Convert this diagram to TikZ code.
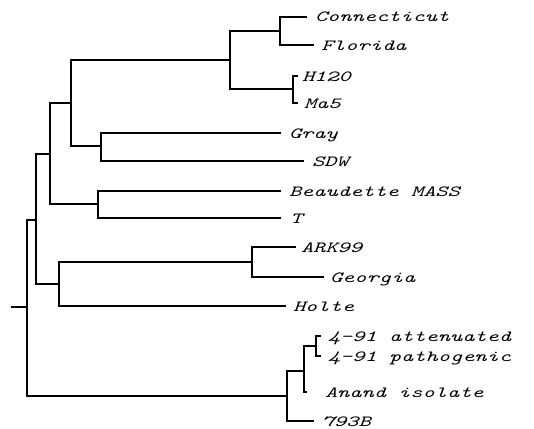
\documentclass[tikz,border=0pt]{standalone}
\usepackage{graphicx}
\newcommand{\lbl}[1]{\scalebox{1.5}[1]{\fontsize{15.5}{17}\selectfont\ttfamily\itshape #1}}
\tikzset{
  br/.style={line width=1.6pt, line cap=rect},
  leaf/.style={anchor=base west, inner sep=0pt, outer sep=0pt, text=black}
}
\begin{document}
\begin{tikzpicture}[x=1pt,y=-1pt]
\useasboundingbox (0,0) rectangle (534,428);
% internal nodes
\coordinate (n1) at (280,31);
\coordinate (n2) at (293,89);
\coordinate (n3) at (230,60);
\coordinate (n4) at (101,146);
\coordinate (n5) at (71,103);
\coordinate (n6) at (98,204);
\coordinate (n7) at (50,154);
\coordinate (n8) at (252,262);
\coordinate (n9) at (59,284);
\coordinate (n10) at (36,220);
\coordinate (n11) at (316,346);
\coordinate (n12) at (304,371);
\coordinate (n13) at (287,396);
\coordinate (root) at (27,307);
\coordinate (stub) at (12,307);
% leaf ends
\coordinate (eConn) at (306,17);
\coordinate (eFlor) at (313,45);
\coordinate (eH) at (297,76);
\coordinate (eMa) at (297,103);
\coordinate (eGray) at (280,133);
\coordinate (eSDW) at (303,161);
\coordinate (eBeau) at (280,191);
\coordinate (eT) at (280,218);
\coordinate (eARK) at (295,247);
\coordinate (eGeo) at (323,277);
\coordinate (eHol) at (285,306);
\coordinate (eAtt) at (320,336);
\coordinate (ePat) at (320,356);
\coordinate (eAn) at (306,392);
\coordinate (e793) at (313,421);
% labels
\node[leaf] (lConn) at (315,22) {\lbl{Connecticut}};
\node[leaf] (lFlor) at (321,50) {\lbl{Florida}};
\node[leaf] (lH) at (302,81) {\lbl{H120}};
\node[leaf] (lMa) at (304,108) {\lbl{Ma5}};
\node[leaf] (lGray) at (289,138) {\lbl{Gray}};
\node[leaf] (lSDW) at (312,166) {\lbl{SDW}};
\node[leaf] (lBeau) at (289,196) {\lbl{Beaudette MASS}};
\node[leaf] (lT) at (290,223) {\lbl{T}};
\node[leaf] (lARK) at (301,252) {\lbl{ARK99}};
\node[leaf] (lGeo) at (330,282) {\lbl{Georgia}};
\node[leaf] (lHol) at (293,311) {\lbl{Holte}};
\node[leaf] (lAtt) at (328,341) {\lbl{4\textendash91 attenuated}};
\node[leaf] (lPat) at (328,361) {\lbl{4\textendash91 pathogenic}};
\node[leaf] (lAn) at (325,397) {\lbl{Anand isolate}};
\node[leaf] (l793) at (322,426) {\lbl{793B}};
% branches
\draw[br] (n1) |- (eConn);
\draw[br] (n1) |- (eFlor);
\draw[br] (n2) |- (eH);
\draw[br] (n2) |- (eMa);
\draw[br] (n3) |- (n1);
\draw[br] (n3) |- (n2);
\draw[br] (n4) |- (eGray);
\draw[br] (n4) |- (eSDW);
\draw[br] (n5) |- (n3);
\draw[br] (n5) |- (n4);
\draw[br] (n6) |- (eBeau);
\draw[br] (n6) |- (eT);
\draw[br] (n7) |- (n5);
\draw[br] (n7) |- (n6);
\draw[br] (n8) |- (eARK);
\draw[br] (n8) |- (eGeo);
\draw[br] (n9) |- (n8);
\draw[br] (n9) |- (eHol);
\draw[br] (n10) |- (n7);
\draw[br] (n10) |- (n9);
\draw[br] (n11) |- (eAtt);
\draw[br] (n11) |- (ePat);
\draw[br] (n12) |- (n11);
\draw[br] (n12) |- (eAn);
\draw[br] (n13) |- (n12);
\draw[br] (n13) |- (e793);
\draw[br] (root) |- (n10);
\draw[br] (root) |- (n13);
\draw[br] (stub) -- (root);
\end{tikzpicture}
\end{document}
